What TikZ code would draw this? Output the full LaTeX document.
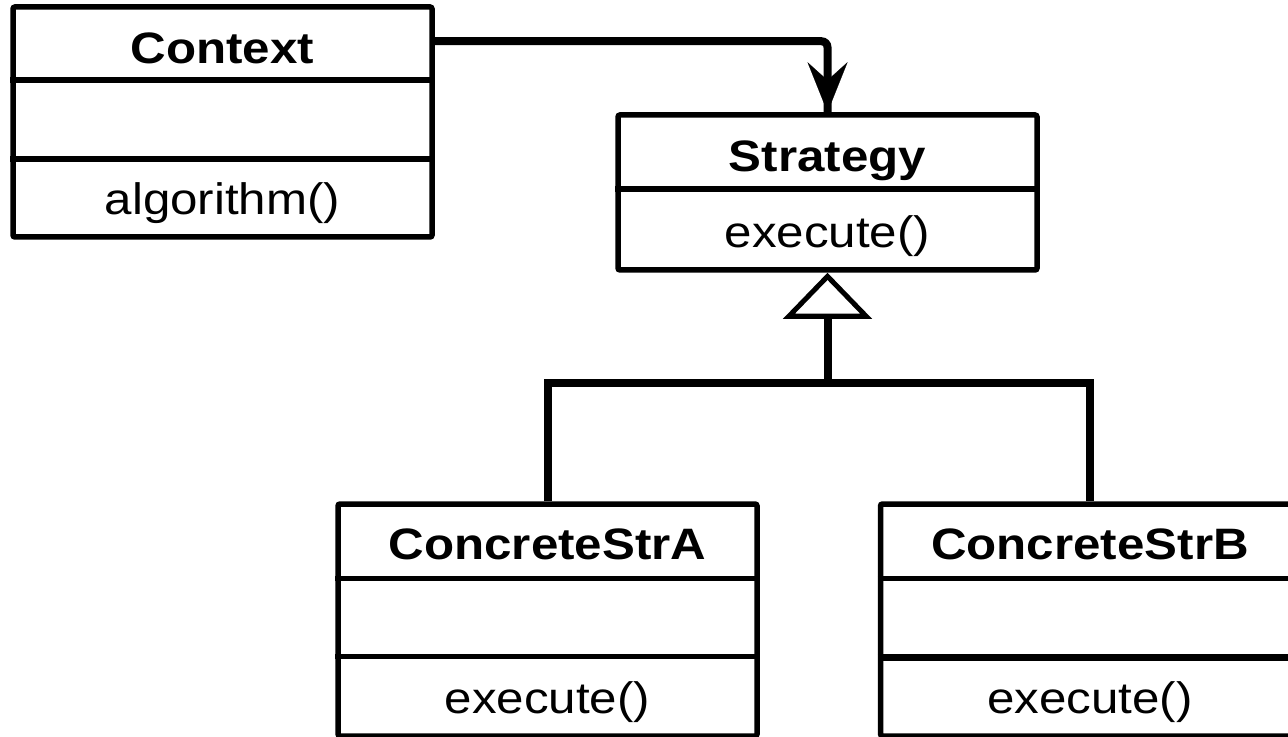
\documentclass[tikz,border=0pt]{standalone}
\usepackage{fontspec}
\setmainfont{Liberation Sans}[FakeStretch=1.12]
\usetikzlibrary{arrows.meta}
\tikzset{
  cls/.style={draw, line width=2.75pt, rounded corners=1pt, minimum width=209.5pt, inner sep=0pt},
  txt/.style={font=\fontsize{22}{26}\selectfont, text height=15.75pt, text depth=0pt, inner sep=0pt},
  ttl/.style={txt, font=\fontsize{22}{26}\selectfont\bfseries},
  sep/.style={line width=2.75pt},
  conn/.style={line width=4pt},
}
\begin{document}
\begin{tikzpicture}[x=0.5pt, y=-0.5pt]
\useasboundingbox (0,0) rectangle (1288,737);

\node[cls, minimum height=115pt] (ctx) at (222.5,122) {};
\node[cls, minimum height=77.5pt] (strat) at (827.5,192.5) {};
\node[cls, minimum height=116pt] (csa) at (547.5,620) {};
\node[cls, minimum height=116pt] (csb) at (1090,620) {};

\draw[sep] ([yshift=-38pt]ctx.north west) -- ([yshift=-38pt]ctx.north east);
\draw[sep] ([yshift=-77.5pt]ctx.north west) -- ([yshift=-77.5pt]ctx.north east);
\draw[sep] ([yshift=-38.5pt]strat.north west) -- ([yshift=-38.5pt]strat.north east);
\draw[sep] ([yshift=-38.5pt]csa.north west) -- ([yshift=-38.5pt]csa.north east);
\draw[sep] ([yshift=-77.5pt]csa.north west) -- ([yshift=-77.5pt]csa.north east);
\draw[sep] ([yshift=-38.5pt]csb.north west) -- ([yshift=-38.5pt]csb.north east);
\draw[sep, line width=3.5pt] ([yshift=-78pt]csb.north west) -- ([yshift=-78pt]csb.north east);

\node[ttl] (ctxname) at (222.5,48) {Context};
\node[txt] (ctxop) at (222.5,199) {algorithm()};
\node[ttl] (stratname) at (827.5,156) {Strategy};
\node[txt] (stratop) at (827.5,232) {execute()};
\node[ttl] (csaname) at (547.5,544) {ConcreteStrA};
\node[txt] (csaop) at (547.5,698) {execute()};
\node[ttl] (csbname) at (1090,544) {ConcreteStrB};
\node[txt] (csbop) at (1090,698) {execute()};

\draw[conn, rounded corners=3pt] ([yshift=-18.5pt]ctx.north east) -| (strat.north);
\draw[-{Stealth[length=25pt, width=20pt, inset=9pt]}, line width=0.1pt] ([yshift=35pt]strat.north) -- (strat.north);
\coordinate (jn) at (827.5,383);
\draw[conn] (csa.north) |- (jn) -| (csb.north);
\draw[conn, -{Triangle[open, fill=white, line width=2.5pt, length=23pt, width=44pt]}] (jn) -- (strat.south);
\end{tikzpicture}
\end{document}
